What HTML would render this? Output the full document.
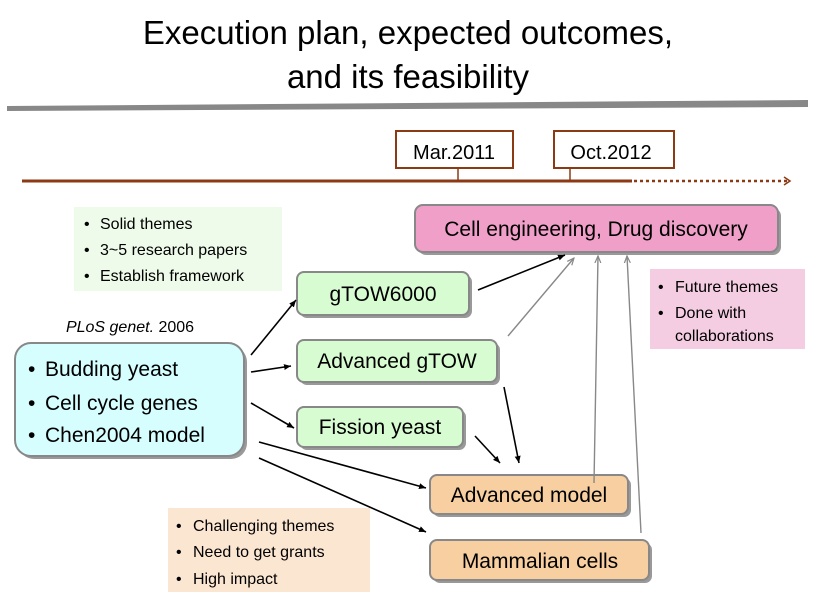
<!DOCTYPE html>
<html><head><meta charset="utf-8"><style>
body{margin:0;background:#fff}
svg{display:block;font-family:"Liberation Sans",sans-serif}
</style></head><body>
<svg width="818" height="605" viewBox="0 0 818 605" xmlns="http://www.w3.org/2000/svg">
<defs>
<marker id="ab" markerWidth="8" markerHeight="8" refX="7" refY="4" orient="auto" markerUnits="userSpaceOnUse"><path d="M0,1 L7,4 L0,7 z" fill="#000"/></marker>
<marker id="ag" markerWidth="8" markerHeight="8" refX="7" refY="4" orient="auto" markerUnits="userSpaceOnUse"><path d="M0,1 L7,4 L0,7" fill="none" stroke="#888" stroke-width="1.2"/></marker>
</defs>
<text x="408" y="44" font-size="33" text-anchor="middle">Execution plan, expected outcomes,</text>
<text x="408" y="88" font-size="33" text-anchor="middle">and its feasibility</text>
<polygon points="7,106 808,100 808,107 7,111" fill="#888"/>
<!-- timeline -->
<line x1="22" y1="181" x2="632" y2="181" stroke="#8b3a14" stroke-width="3"/>
<line x1="634" y1="181" x2="788" y2="181" stroke="#8b3a14" stroke-width="2.5" stroke-dasharray="3,3"/>
<path d="M784,177 L790,181 L784,185" fill="none" stroke="#8b3a14" stroke-width="1.5"/>
<rect x="396" y="131" width="117" height="37" fill="#fff" stroke="#8b3a14" stroke-width="2"/>
<text x="454" y="159" font-size="20" text-anchor="middle">Mar.2011</text>
<line x1="458" y1="168" x2="458" y2="181" stroke="#8b3a14" stroke-width="1.5"/>
<rect x="554" y="131" width="120" height="37" fill="#fff" stroke="#8b3a14" stroke-width="2"/>
<text x="611" y="159" font-size="20" text-anchor="middle">Oct.2012</text>
<line x1="570" y1="168" x2="570" y2="181" stroke="#8b3a14" stroke-width="1.5"/>
<!-- notes -->
<rect x="74" y="207" width="208" height="84" fill="#eefaea"/>
<g font-size="16"><text x="84" y="229">•</text><text x="100" y="229">Solid themes</text><text x="84" y="255">•</text><text x="100" y="255">3~5 research papers</text><text x="84" y="281">•</text><text x="100" y="281">Establish framework</text></g>
<rect x="650" y="269" width="155" height="80" fill="#f5cde3"/>
<g font-size="16"><text x="658" y="292">•</text><text x="675" y="292">Future themes</text><text x="658" y="318">•</text><text x="675" y="318">Done with</text><text x="675" y="341">collaborations</text></g>
<rect x="168" y="508" width="202" height="84" fill="#fbe6d2"/>
<g font-size="16"><text x="176" y="531">•</text><text x="193" y="531">Challenging themes</text><text x="176" y="557">•</text><text x="193" y="557">Need to get grants</text><text x="176" y="584">•</text><text x="193" y="584">High impact</text></g>
<!-- boxes with shadow -->
<g stroke="#888" stroke-width="2">
<rect x="418" y="208" width="363" height="47" rx="8" fill="#999" stroke="none"/>
<rect x="415" y="205" width="363" height="47" rx="8" fill="#f0a0c8"/>
<rect x="300" y="275" width="172" height="43" rx="7" fill="#999" stroke="none"/>
<rect x="297" y="272" width="172" height="43" rx="7" fill="#d8fcd2"/>
<rect x="300" y="343" width="200" height="42" rx="7" fill="#999" stroke="none"/>
<rect x="297" y="340" width="200" height="42" rx="7" fill="#d8fcd2"/>
<rect x="300" y="410" width="166" height="40" rx="7" fill="#999" stroke="none"/>
<rect x="297" y="407" width="166" height="40" rx="7" fill="#d8fcd2"/>
<rect x="18" y="346" width="229" height="113" rx="16" fill="#999" stroke="none"/>
<rect x="15" y="343" width="229" height="113" rx="16" fill="#d6feff"/>
<rect x="433" y="478" width="198" height="39" rx="7" fill="#999" stroke="none"/>
<rect x="430" y="475" width="198" height="39" rx="7" fill="#f7cfa0"/>
<rect x="433" y="543" width="219" height="40" rx="7" fill="#999" stroke="none"/>
<rect x="430" y="540" width="219" height="40" rx="7" fill="#f7cfa0"/>
</g>
<text x="596" y="236" font-size="21" text-anchor="middle">Cell engineering, Drug discovery</text>
<text x="383" y="301" font-size="21" text-anchor="middle">gTOW6000</text>
<text x="397" y="368" font-size="21" text-anchor="middle">Advanced gTOW</text>
<text x="380" y="434" font-size="21" text-anchor="middle">Fission yeast</text>
<text x="529" y="502" font-size="21" text-anchor="middle">Advanced model</text>
<text x="540" y="568" font-size="21" text-anchor="middle">Mammalian cells</text>
<text x="130" y="332" font-size="16" text-anchor="middle"><tspan font-style="italic">PLoS genet.</tspan> 2006</text>
<g font-size="21"><text x="28" y="376">•</text><text x="45" y="376">Budding yeast</text><text x="28" y="410">•</text><text x="45" y="410">Cell cycle genes</text><text x="28" y="442">•</text><text x="45" y="442">Chen2004 model</text></g>
<!-- arrows -->
<g stroke="#000" stroke-width="1.6" marker-end="url(#ab)">
<line x1="251" y1="355" x2="296" y2="300"/>
<line x1="251" y1="372" x2="291" y2="366"/>
<line x1="251" y1="403" x2="294" y2="428"/>
<line x1="259" y1="442" x2="426" y2="488"/>
<line x1="259" y1="458" x2="426" y2="532"/>
<line x1="478" y1="290" x2="565" y2="255"/>
<line x1="504" y1="387" x2="519" y2="463"/>
<line x1="475" y1="436" x2="500" y2="463"/>
</g>
<g stroke="#888" stroke-width="1.4" marker-end="url(#ag)">
<line x1="508" y1="336" x2="574" y2="258"/>
<line x1="594" y1="483" x2="598" y2="256"/>
<line x1="641" y1="533" x2="627" y2="256"/>
</g>
</svg>
</body></html>
